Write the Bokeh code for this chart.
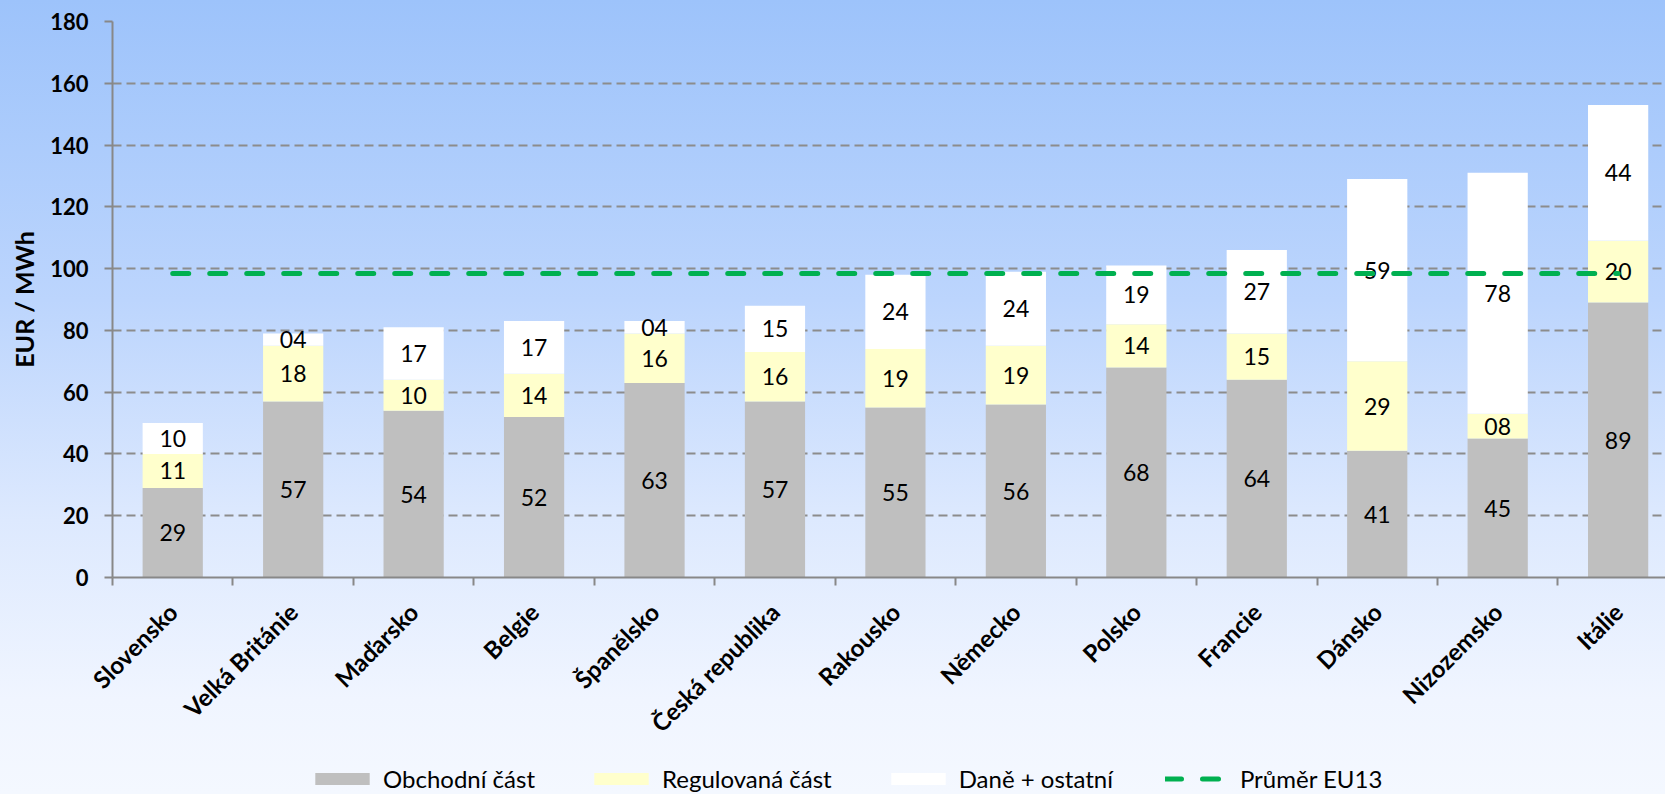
import math
from bokeh.plotting import figure
from bokeh.layouts import column
from bokeh.models import (ColumnDataSource, Range1d, FixedTicker, Legend, LegendItem,
                          GlobalInlineStyleSheet)
from bokeh.core.properties import value
from bokeh.embed import file_html
from bokeh.resources import INLINE

# ---------------- data ----------------
countries = ["Slovensko", "Velká Británie", "Maďarsko", "Belgie", "Španělsko",
             "Česká republika", "Rakousko", "Německo", "Polsko", "Francie",
             "Dánsko", "Nizozemsko", "Itálie"]
obchodni = [29, 57, 54, 52, 63, 57, 55, 56, 68, 64, 41, 45, 89]
regulovana = [11, 18, 10, 14, 16, 16, 19, 19, 14, 15, 29, 8, 20]
dane = [10, 4, 17, 17, 4, 15, 24, 24, 19, 27, 59, 78, 44]
prumer_eu13 = 98.4
y_ticks = [0, 20, 40, 60, 80, 100, 120, 140, 160, 180]
series_names = ["Obchodní část", "Regulovaná část", "Daně + ostatní", "Průměr EU13"]
colors = ["#bfbfbf", "#ffffcc", "#ffffff"]
avg_color = "#00b050"

FONT = "Lato"
W = 1665
H_MAIN, H_LEG = 760, 34
LEFT, TOP = 112, 21
BOTTOM = H_MAIN - 577
CAT_PX = 120.45

xs = [i + 0.5 for i in range(len(countries))]
n_visible = (W - LEFT) / CAT_PX

p = figure(width=W, height=H_MAIN, x_range=Range1d(0, n_visible), y_range=Range1d(0, 180),
           output_backend="svg", toolbar_location=None,
           min_border_left=LEFT, min_border_top=TOP, min_border_bottom=BOTTOM,
           min_border_right=0)
p.background_fill_alpha = 0
p.border_fill_alpha = 0
p.outline_line_color = None

src = ColumnDataSource(dict(x=xs, obchodni=obchodni, regulovana=regulovana, dane=dane))
stack_cols = ["obchodni", "regulovana", "dane"]
bars = p.vbar_stack(stack_cols, x="x", width=0.5,
                    fill_color=colors, line_color=None, source=src)

# data labels at segment centres
lx, ly, lt = [], [], []
for i, x in enumerate(xs):
    base = 0
    for seg in (obchodni, regulovana, dane):
        v = seg[i]
        lx.append(x)
        ly.append(base + v / 2)
        lt.append(f"{v:02d}")
        base += v
p.text(x=lx, y=ly, text=lt, text_font=value(FONT), text_font_size="23px",
       text_align="center", text_baseline="middle", text_color="black")

avg_x = [xs[0], xs[-1]]
avg_y = [prumer_eu13, prumer_eu13]
p.line(x=avg_x, y=avg_y, line_color=avg_color,
       line_width=5, line_dash="16 21", line_cap="round")

# axes
ax = p.xaxis[0]
ax.ticker = FixedTicker(ticks=xs, minor_ticks=list(range(len(countries) + 1)))
ax.major_label_overrides = {x: c for x, c in zip(xs, countries)}
ax.major_label_orientation = math.pi / 4
ax.major_tick_line_color = None
ax.major_tick_out = 0
ax.major_tick_in = 0
ax.minor_tick_out = 8
ax.minor_tick_in = 0
ax.minor_tick_line_color = "#888888"
ax.minor_tick_line_width = 2
ax.axis_line_color = "#888888"
ax.axis_line_width = 2
ax.major_label_standoff = 22
ax.major_label_text_font = FONT
ax.major_label_text_font_style = "bold"
ax.major_label_text_font_size = "24px"
ax.major_label_text_color = "black"

ay = p.yaxis[0]
ay.ticker = FixedTicker(ticks=y_ticks)
ay.major_tick_out = 8
ay.major_tick_in = 0
ay.major_tick_line_color = "#888888"
ay.major_tick_line_width = 2
ay.minor_tick_line_color = None
ay.axis_line_color = "#888888"
ay.axis_line_width = 2
ay.major_label_standoff = 16
ay.major_label_text_font = FONT
ay.major_label_text_font_style = "bold"
ay.major_label_text_font_size = "22px"
ay.major_label_text_color = "black"
ay.axis_label = "EUR / MWh"
ay.axis_label_text_font = FONT
ay.axis_label_text_font_style = "bold"
ay.axis_label_text_font_size = "25px"
ay.axis_label_text_color = "black"
ay.axis_label_standoff = 8

p.xgrid.grid_line_color = None
p.ygrid.grid_line_color = "#8c8c8c"
p.ygrid.grid_line_width = 2
p.ygrid.grid_line_dash = "9 5"

# ---------------- legend strip ----------------
lf = figure(width=W, height=H_LEG, x_range=Range1d(0, 1), y_range=Range1d(0, 1),
            output_backend="svg", toolbar_location=None,
            x_axis_type=None, y_axis_type=None,
            min_border_left=0, min_border_right=0, min_border_top=0, min_border_bottom=0)
lf.background_fill_alpha = 0
lf.border_fill_alpha = 0
lf.outline_line_color = None
lf.xgrid.grid_line_color = None
lf.ygrid.grid_line_color = None
leg_r = lf.vbar_stack(stack_cols, x="x", width=0.5, fill_color=colors,
                      line_color=None, source=src)
leg_r.append(lf.line(x=avg_x, y=avg_y, line_color=avg_color, line_width=5,
                     line_dash="16 21", line_cap="round"))
for r in leg_r:
    r.visible = False

legend = Legend(items=[LegendItem(label=n, renderers=[r]) for n, r in zip(series_names, leg_r)],
                orientation="horizontal", location=(196, 1),
                glyph_width=68, glyph_height=15, label_standoff=7, spacing=52,
                padding=0, margin=0, background_fill_alpha=0, border_line_color=None,
                inactive_fill_alpha=0,
                label_text_font=FONT, label_text_font_size="24px",
                label_text_color="black")
lf.add_layout(legend)

layout = column(p, lf, spacing=0)
layout.stylesheets = [GlobalInlineStyleSheet(css="""
html { min-height: 100%;
  background: linear-gradient(180deg, #9dc3fb 0px, #bcd5fd 300px, #dde9fe 520px,
              #f0f5ff 700px, #f4f8ff 794px) no-repeat;
  background-size: 100% 794px; }
body { background: transparent; }
""")]

open("out.html", "w").write(file_html(layout, INLINE))
